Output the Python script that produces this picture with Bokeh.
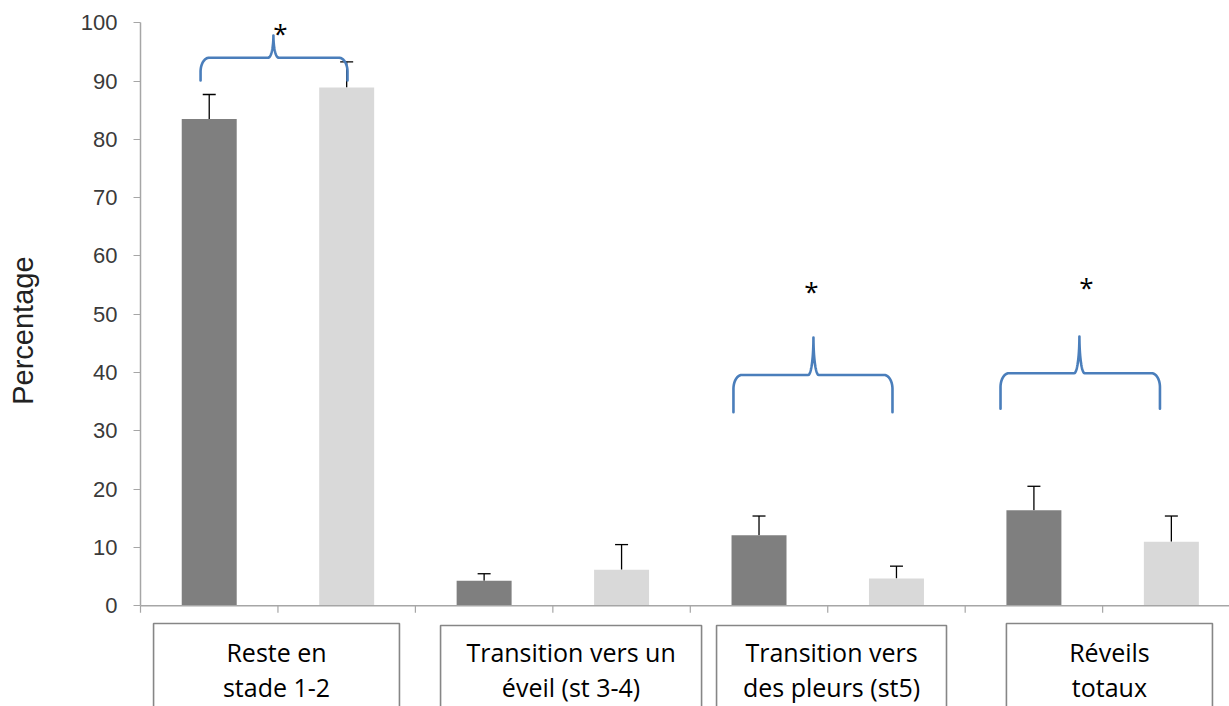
import numpy as np
from bokeh.plotting import figure
from bokeh.models import Range1d, FixedTicker, Whisker, TeeHead, ColumnDataSource, Label
from bokeh.core.properties import value
from bokeh.embed import file_html
from bokeh.resources import INLINE

# ---------------- data ----------------
cat_line1 = ["Reste en", "Transition vers un", "Transition vers", "Réveils"]
cat_line2 = ["stade 1-2", "éveil (st 3-4)", "des pleurs (st5)", "totaux"]

dark_values = [83.5, 4.3, 12.1, 16.4]
dark_errors = [4.2, 1.2, 3.3, 4.1]
light_values = [88.9, 6.2, 4.7, 11.0]
light_errors = [4.4, 4.3, 2.1, 4.4]

y_ticks = list(range(0, 101, 10))

# significance annotations (braces + asterisks), in axis units
brace_left = [0.437, 4.314, 6.257]
brace_right = [1.506, 5.471, 7.417]
brace_mid = [0.967, 4.896, 6.831]
brace_foot = [90.1, 33.2, 33.8]
brace_bar = [94.0, 39.6, 39.9]
brace_tip = [97.8, 46.0, 46.2]
star_x = [1.018, 4.882, 6.882]
star_y = [98.3, 54.05, 54.75]

# category boxes below the axis (hand-placed text boxes), in axis units
box_left = [0.095, 2.183, 4.191, 6.300]
box_right = [1.884, 4.082, 5.864, 7.799]
box_top = [-3.04, -3.38, -3.38, -3.04]
label_row_y = [-7.85, -13.95]

# ---------------- figure ----------------
p = figure(width=1229, height=706, output_backend="svg", toolbar_location=None,
           x_range=Range1d(-1.0186, 7.923), y_range=Range1d(-17.27, 103.82),
           min_border_left=0, min_border_right=0, min_border_top=0, min_border_bottom=0)
p.outline_line_color = None
p.xgrid.visible = False
p.ygrid.visible = False
p.xaxis.visible = False
p.background_fill_color = "white"
p.border_fill_color = "white"

n = len(cat_line1)
dark_x = [2 * i + 0.5 for i in range(n)]
light_x = [2 * i + 1.5 for i in range(n)]

p.vbar(x=dark_x, top=dark_values, bottom=0, width=0.4, fill_color="#7f7f7f", line_color=None)
p.vbar(x=light_x, top=light_values, bottom=0, width=0.4, fill_color="#d9d9d9", line_color=None)

err_src = ColumnDataSource(dict(
    x=dark_x + light_x,
    lower=dark_values + light_values,
    upper=[v + e for v, e in zip(dark_values, dark_errors)] + [v + e for v, e in zip(light_values, light_errors)],
))
p.add_layout(Whisker(base="x", lower="lower", upper="upper", source=err_src,
                     upper_head=TeeHead(size=13, line_color="black", line_width=1.3),
                     lower_head=None, line_color="black", line_width=1.3))

# x axis line at 0 (from the y axis rightwards) and slot-boundary tick marks
slot_edges = list(range(0, 2 * n))
p.segment(x0=[0], x1=[7.923], y0=[0], y1=[0], line_color="#a6a6a6", line_width=1.5)
p.segment(x0=slot_edges, x1=slot_edges, y0=[0] * len(slot_edges), y1=[-1.2] * len(slot_edges),
          line_color="#a6a6a6", line_width=1.2)

ya = p.yaxis[0]
ya.fixed_location = 0
ya.bounds = (0, 100)
ya.ticker = FixedTicker(ticks=y_ticks)
ya.major_tick_in = 0
ya.major_tick_out = 7
ya.minor_tick_out = 0
ya.minor_tick_in = 0
ya.axis_line_color = "#a6a6a6"
ya.major_tick_line_color = "#a6a6a6"
ya.axis_line_width = 1.5
ya.major_tick_line_width = 1.2
ya.major_label_standoff = 16
ya.major_label_text_font = "Liberation Sans"
ya.major_label_text_font_size = "22px"
ya.major_label_text_color = "#3a3a3a"

p.add_layout(Label(x=22, y=47.2, x_units="screen", y_units="data", text="Percentage",
                   angle=np.pi / 2, text_align="center", text_baseline="middle",
                   text_font="Liberation Sans", text_font_size="29px", text_color="#222222"))

# braces
t = np.linspace(0, np.pi / 2, 24)
rx, ry, cx = 0.062, 2.4, 0.038
bxs, bys = [], []
for x0, x1, xc, yb, yh, yp in zip(brace_left, brace_right, brace_mid, brace_foot, brace_bar, brace_tip):
    lc_x = (x0 + rx) - rx * np.cos(t)
    lc_y = (yh - ry) + ry * np.sin(t)
    lp_x = (xc - cx) + cx * np.sin(t)
    lp_y = yp - (yp - yh) * np.cos(t)
    rp_x = (xc + cx) - cx * np.sin(t[::-1])
    rp_y = lp_y[::-1]
    rc_x = (x1 - rx) + rx * np.cos(t[::-1])
    rc_y = lc_y[::-1]
    xs = np.concatenate([[x0], lc_x, lp_x, rp_x, rc_x, [x1]])
    ys = np.concatenate([[yb], lc_y, lp_y, rp_y, rc_y, [yb]])
    bxs.append(list(xs))
    bys.append(list(ys))
p.multi_line(xs=bxs, ys=bys, line_color="#4a7ebb", line_width=2.6, line_join="round", line_cap="round")

p.text(x=star_x, y=star_y, text=["*"] * len(star_x), text_font=value("Open Sans"),
       text_font_size="26px", text_align="center", text_baseline="alphabetic", text_color="black")

# category boxes
box_bottom = [-40] * n
p.quad(left=box_left, right=box_right, top=box_top, bottom=box_bottom,
       fill_color=None, line_color="#868686", line_width=1.6)
box_cx = [(a + b) / 2 for a, b in zip(box_left, box_right)]
p.text(x=box_cx, y=[label_row_y[0]] * n, text=cat_line1, text_font=value("Open Sans"), text_font_size="25px",
       text_align="center", text_baseline="alphabetic", text_color="black")
p.text(x=box_cx, y=[label_row_y[1]] * n, text=cat_line2, text_font=value("Open Sans"), text_font_size="25px",
       text_align="center", text_baseline="alphabetic", text_color="black")

open("out.html", "w").write(file_html(p, INLINE))
